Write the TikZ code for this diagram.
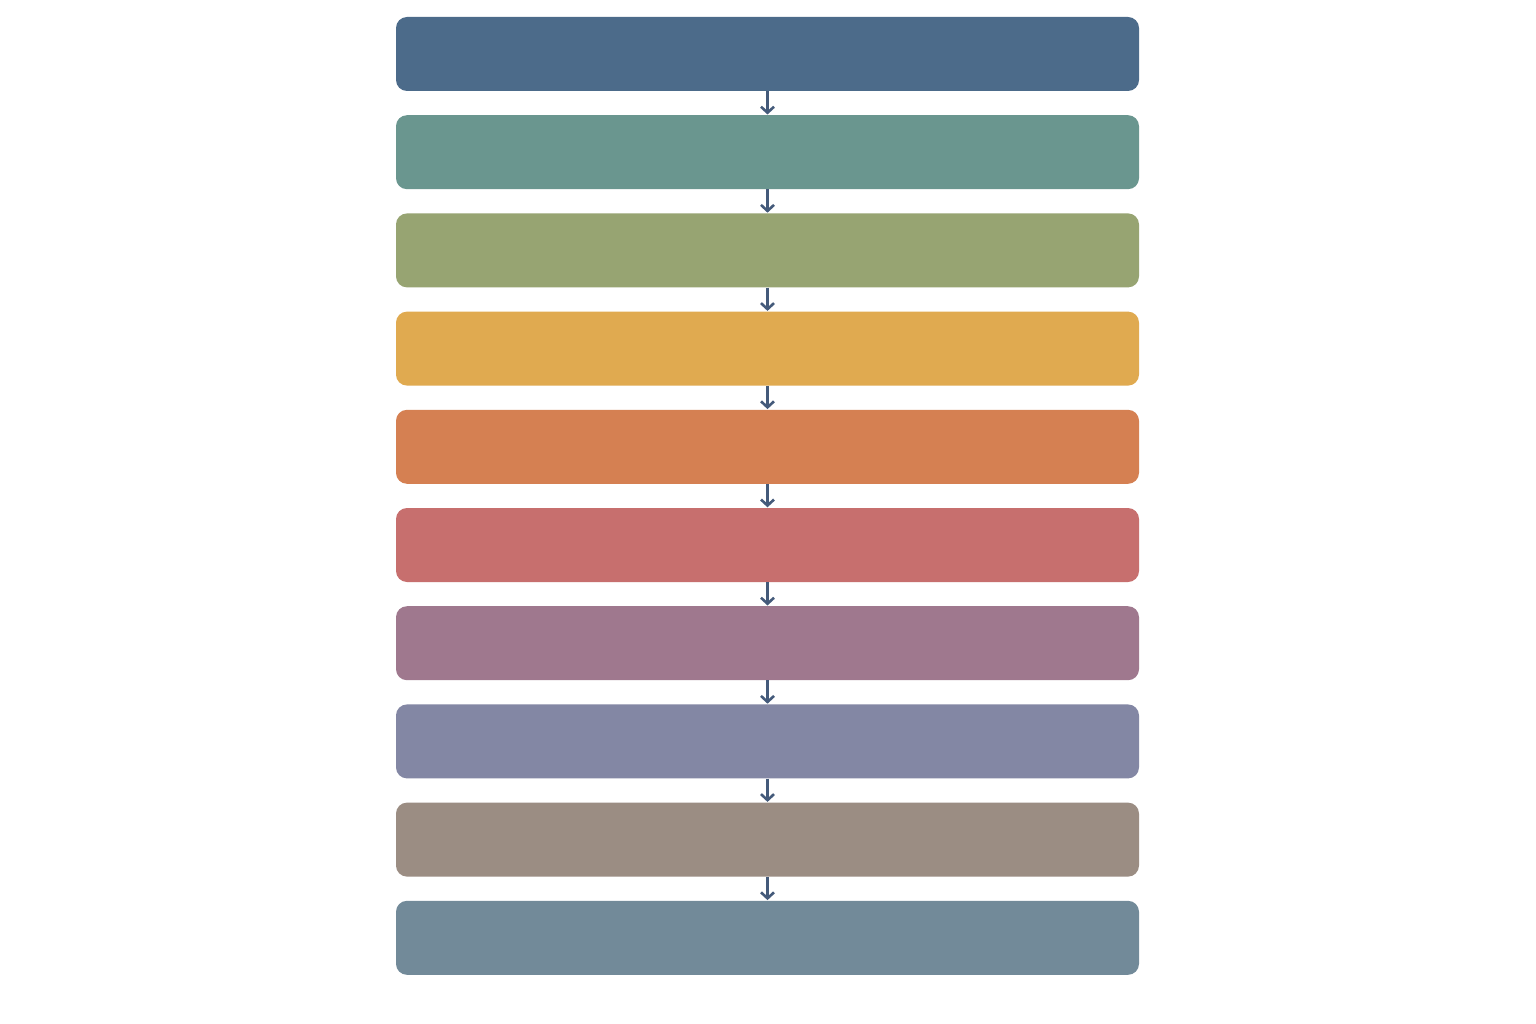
\documentclass[tikz,border=0pt]{standalone}
\usetikzlibrary{arrows.meta}
\definecolor{cA}{HTML}{4C6B8A}
\definecolor{cB}{HTML}{6A968F}
\definecolor{cC}{HTML}{97A472}
\definecolor{cD}{HTML}{E0AA50}
\definecolor{cE}{HTML}{D58052}
\definecolor{cF}{HTML}{C76F6E}
\definecolor{cG}{HTML}{9F788E}
\definecolor{cH}{HTML}{8387A4}
\definecolor{cI}{HTML}{9B8D83}
\definecolor{cJ}{HTML}{728A99}
\definecolor{arr}{HTML}{445A7A}
\tikzset{
  bar/.style={rectangle, rounded corners=11pt, minimum width=743pt, minimum height=74pt, inner sep=0pt, draw=none},
  flow/.style={draw=arr, line width=2.6pt, -{Straight Barb[length=6pt,width=13pt,line width=2.6pt]}, shorten >=0.5pt}
}
\begin{document}
\begin{tikzpicture}[x=1pt,y=-1pt]
\useasboundingbox[fill=white] (0,0) rectangle (1536,1024);
\foreach \i/\c in {1/cA,2/cB,3/cC,4/cD,5/cE,6/cF,7/cG,8/cH,9/cI,10/cJ}{
  \node[bar, fill=\c] (b\i) at (767.5, {54+(\i-1)*98.2}) {};
}
\foreach \i [evaluate=\i as \j using int(\i+1)] in {1,...,9}{
  \draw[flow] (b\i.south) -- (b\j.north);
}
\end{tikzpicture}
\end{document}
